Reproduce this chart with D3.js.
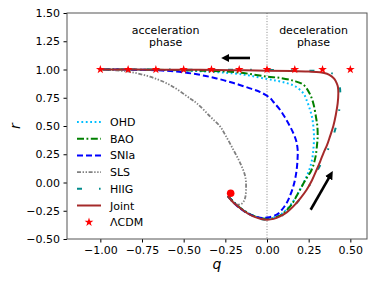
<!DOCTYPE html>
<html>
<head>
<meta charset="utf-8">
<script src="https://cdn.jsdelivr.net/npm/d3@7"></script>
<style>
  body { margin: 0; background: #fff; }
  text { font-family: "DejaVu Sans", sans-serif; }
</style>
</head>
<body>
<svg id="chart" width="378" height="283"></svg>
<script>
// q-r trajectories, start point (past) -> de Sitter point (-1, 1)
var qOHD = [-0.235, -0.16, -0.08, 0.0, 0.06, 0.11, 0.16, 0.198, 0.23, 0.254, 0.27, 0.278, 0.282, 0.278, 0.27, 0.258, 0.24, 0.218, 0.17, 0.118, 0.06, 0.0, -0.1, -0.2, -0.4, -0.6, -0.8, -1.0];
var rOHD = [-0.12, -0.225, -0.295, -0.32, -0.30, -0.25, -0.16, -0.064, 0.03, 0.113, 0.20, 0.29, 0.40, 0.497, 0.58, 0.644, 0.72, 0.79, 0.85, 0.88, 0.90, 0.915, 0.945, 0.965, 0.985, 0.995, 0.999, 1.0];

var qBAO = [-0.235, -0.16, -0.08, 0.0, 0.06, 0.10, 0.15, 0.188, 0.23, 0.268, 0.29, 0.30, 0.304, 0.302, 0.296, 0.278, 0.255, 0.218, 0.16, 0.08, 0.0, -0.1, -0.2, -0.4, -0.6, -0.8, -1.0];
var rBAO = [-0.12, -0.225, -0.295, -0.322, -0.305, -0.27, -0.19, -0.09, 0.02, 0.113, 0.22, 0.33, 0.41, 0.50, 0.56, 0.70, 0.79, 0.866, 0.90, 0.925, 0.937, 0.96, 0.978, 0.99, 0.996, 0.999, 1.0];

var qSNIa = [-0.235, -0.17, -0.1, -0.03, 0.0, 0.058, 0.09, 0.118, 0.14, 0.158, 0.17, 0.178, 0.183, 0.184, 0.175, 0.16, 0.138, 0.11, 0.078, 0.04, 0.018, -0.04, -0.102, -0.2, -0.302, -0.4, -0.502, -0.6, -0.702, -0.85, -1.0];
var rSNIa = [-0.12, -0.22, -0.285, -0.314, -0.31, -0.285, -0.24, -0.181, -0.11, -0.034, 0.04, 0.113, 0.20, 0.29, 0.37, 0.43, 0.497, 0.57, 0.644, 0.71, 0.748, 0.80, 0.833, 0.88, 0.921, 0.952, 0.975, 0.988, 0.996, 0.999, 1.0];

var qSLS = [-0.235, -0.21, -0.18, -0.15, -0.132, -0.126, -0.13, -0.16, -0.202, -0.25, -0.282, -0.342, -0.42, -0.462, -0.582, -0.702, -0.842, -1.0];
var rSLS = [-0.12, -0.17, -0.195, -0.185, -0.14, -0.064, 0.05, 0.17, 0.29, 0.42, 0.497, 0.585, 0.70, 0.744, 0.863, 0.936, 0.983, 1.0];

var qHIIG = [-0.235, -0.162, -0.082, 0.0, 0.08, 0.16, 0.24, 0.30, 0.35, 0.39, 0.418, 0.435, 0.44, 0.437, 0.428, 0.40, 0.328, 0.2, 0.0, -0.3, -0.6, -1.0];
var rHIIG = [-0.12, -0.226, -0.30, -0.33, -0.30, -0.21, -0.06, 0.10, 0.24, 0.38, 0.52, 0.66, 0.76, 0.85, 0.925, 0.96, 0.983, 0.992, 0.996, 0.998, 0.999, 1.0];

var qJoint = [-0.235, -0.2, -0.162, -0.12, -0.082, -0.04, 0.0, 0.04, 0.078, 0.12, 0.158, 0.2, 0.238, 0.27, 0.298, 0.32, 0.34, 0.36, 0.378, 0.398, 0.413, 0.424, 0.428, 0.425, 0.418, 0.405, 0.388, 0.36, 0.318, 0.25, 0.15, 0.0, -0.2, -0.4, -0.6, -0.8, -1.0];
var rJoint = [-0.12, -0.18, -0.226, -0.27, -0.30, -0.32, -0.329, -0.322, -0.30, -0.262, -0.211, -0.14, -0.064, 0.02, 0.113, 0.19, 0.265, 0.33, 0.408, 0.50, 0.60, 0.70, 0.79, 0.85, 0.88, 0.915, 0.939, 0.962, 0.975, 0.982, 0.987, 0.99, 0.994, 0.997, 0.998, 0.999, 1.0];

// LCDM fixed points
var qLCDM = [-1.0, -0.8333, -0.6667, -0.5, -0.3333, -0.1667, 0.0, 0.1667, 0.3333, 0.5];
var rLCDM = [1, 1, 1, 1, 1, 1, 1, 1, 1, 1];

var startPoint = [-0.218, -0.095];

var xTicks = [-1.0, -0.75, -0.5, -0.25, 0.0, 0.25, 0.5];
var yTicks = [-0.5, -0.25, 0.0, 0.25, 0.5, 0.75, 1.0, 1.25, 1.5];

var series = [
  { name: "OHD",  q: qOHD,  r: rOHD,  color: "#00bfff", width: 2,   dash: "1.8,2.6" },
  { name: "BAO",  q: qBAO,  r: rBAO,  color: "#008000", width: 2,   dash: "7,2.5,1.8,2.5" },
  { name: "SNIa", q: qSNIa, r: rSNIa, color: "#0000ff", width: 2,   dash: "6,3" },
  { name: "SLS",  q: qSLS,  r: rSLS,  color: "#808080", width: 1.8, dash: "4,1.6,1.4,1.6,1.4,1.6" },
  { name: "HIIG", q: qHIIG, r: rHIIG, color: "#008b8b", width: 2,   dash: "5,17,1.6,17" },
  { name: "Joint",q: qJoint,r: rJoint,color: "#a52a2a", width: 2,   dash: null }
];

var svg = d3.select("#chart"),
    margin = {left: 67, right: 11, top: 13, bottom: 44},
    width = 378 - margin.left - margin.right,
    height = 283 - margin.top - margin.bottom;

var x = d3.scaleLinear().domain([-1.2, 0.6]).range([0, width]);
var y = d3.scaleLinear().domain([-0.5, 1.5]).range([height, 0]);

var g = svg.append("g").attr("transform", "translate(" + margin.left + "," + margin.top + ")");

svg.append("defs").append("clipPath").attr("id", "clip")
  .append("rect").attr("width", width).attr("height", height);

// axes
var fmt = function(d) { return d3.format(".2f")(d).replace("-", "\u2212"); };
var xAxis = g.append("g").attr("transform", "translate(0," + height + ")")
  .call(d3.axisBottom(x).tickValues(xTicks).tickFormat(fmt).tickSizeOuter(0).tickSize(3.5).tickPadding(3.5));
var yAxis = g.append("g")
  .call(d3.axisLeft(y).tickValues(yTicks).tickFormat(fmt).tickSizeOuter(0).tickSize(3.5).tickPadding(3.5));
[xAxis, yAxis].forEach(function(a) {
  a.selectAll("text").style("font-size", "11px").attr("fill", "#000");
  a.selectAll("line").attr("stroke", "#000");
  a.select(".domain").remove();
});

// vertical q=0 line
g.append("line")
  .attr("x1", x(0)).attr("x2", x(0)).attr("y1", 0).attr("y2", height)
  .attr("stroke", "#888").attr("stroke-width", 1).attr("stroke-dasharray", "1,1.7");

var plot = g.append("g").attr("clip-path", "url(#clip)");

var line = d3.line()
  .x(function(d) { return x(d[0]); })
  .y(function(d) { return y(d[1]); })
  .curve(d3.curveCatmullRom.alpha(0.5));

series.forEach(function(s) {
  plot.append("path")
    .datum(s.q.map(function(v, i) { return [v, s.r[i]]; }))
    .attr("d", line)
    .attr("fill", "none")
    .attr("stroke", s.color)
    .attr("stroke-width", s.width)
    .attr("stroke-dasharray", s.dash);
});

var star = d3.symbol().type(d3.symbolStar).size(24);
plot.selectAll(".star")
  .data(qLCDM.map(function(v, i) { return [v, rLCDM[i]]; }))
  .enter().append("path")
  .attr("class", "star")
  .attr("d", star)
  .attr("transform", function(d) { return "translate(" + x(d[0]) + "," + y(d[1]) + ")"; })
  .attr("fill", "#ff0000");

plot.append("circle")
  .attr("cx", x(startPoint[0])).attr("cy", y(startPoint[1])).attr("r", 3.8)
  .attr("fill", "#ff0000");

// arrows
svg.append("defs").append("marker")
  .attr("id", "head").attr("viewBox", "0 0 10 10").attr("refX", 2).attr("refY", 5)
  .attr("markerWidth", 3.2).attr("markerHeight", 3.2).attr("orient", "auto")
  .append("path").attr("d", "M0,0L10,5L0,10z").attr("fill", "#000");

var arrows = [
  [[-0.102, 1.102], [-0.235, 1.102]],
  [[0.262, -0.241], [0.375, 0.05]]
];
arrows.forEach(function(a) {
  g.append("line")
    .attr("x1", x(a[0][0])).attr("y1", y(a[0][1]))
    .attr("x2", x(a[1][0])).attr("y2", y(a[1][1]))
    .attr("stroke", "#000").attr("stroke-width", 2.6)
    .attr("marker-end", "url(#head)");
});

// phase labels
var phases = [
  { lines: ["acceleration", "phase"], q: -0.608 },
  { lines: ["deceleration", "phase"], q: 0.279 }
];
phases.forEach(function(p) {
  p.lines.forEach(function(t, i) {
    g.append("text")
      .attr("x", x(p.q)).attr("y", 21 + i * 11.5)
      .attr("text-anchor", "middle").style("font-size", "11px")
      .text(t);
  });
});

// frame
g.append("rect").attr("width", width).attr("height", height)
  .attr("fill", "none").attr("stroke", "#555").attr("stroke-width", 1);

// axis labels
svg.append("text")
  .attr("x", margin.left + width / 2).attr("y", 269)
  .attr("text-anchor", "middle").style("font-size", "14px").style("font-style", "italic")
  .text("q");
svg.append("text")
  .attr("transform", "translate(20," + (margin.top + height / 2) + ") rotate(-90)")
  .attr("text-anchor", "middle").style("font-size", "14px").style("font-style", "italic")
  .text("r");

// legend
var legend = g.append("g").attr("transform", "translate(10," + 109 + ")");
series.forEach(function(s, i) {
  var row = legend.append("g").attr("transform", "translate(0," + (i * 16.7) + ")");
  row.append("line").attr("x1", 0).attr("x2", 24).attr("y1", 0).attr("y2", 0)
    .attr("stroke", s.color).attr("stroke-width", s.width).attr("stroke-dasharray", s.dash);
  row.append("text").attr("x", 33).attr("y", 4).style("font-size", "11px").text(s.name);
});
var lrow = legend.append("g").attr("transform", "translate(0," + (6 * 16.7) + ")");
lrow.append("path").attr("d", star).attr("transform", "translate(12,0)").attr("fill", "#ff0000");
lrow.append("text").attr("x", 33).attr("y", 4).style("font-size", "11px").text("\u039BCDM");
</script>
</body>
</html>
